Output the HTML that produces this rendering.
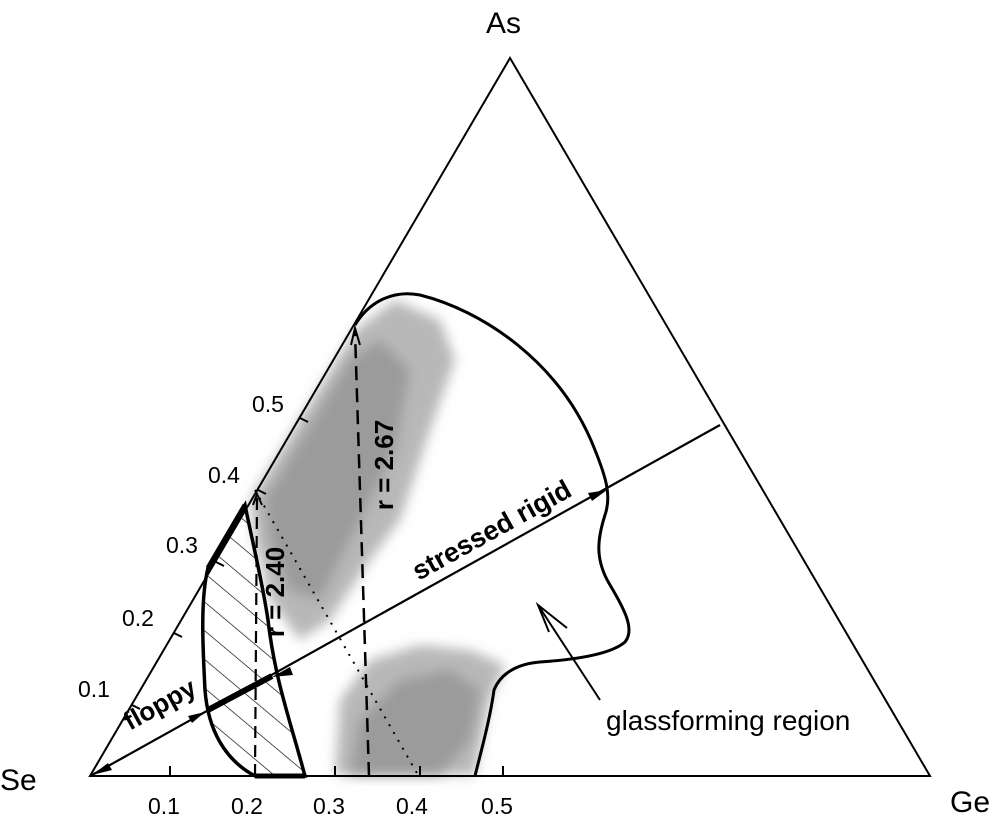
<!DOCTYPE html>
<html><head><meta charset="utf-8"><style>
html,body{margin:0;padding:0;background:#fff;}
svg{display:block;}
text{font-family:"Liberation Sans",sans-serif;fill:#000;}
</style></head><body>
<svg width="1000" height="816" viewBox="0 0 1000 816">
<defs>
<pattern id="hatch" patternUnits="userSpaceOnUse" width="22" height="22" patternTransform="rotate(-50)">
<line x1="0" y1="0" x2="0" y2="22" stroke="#000" stroke-width="1.3"/>
</pattern>
<filter id="blur"><feGaussianBlur stdDeviation="6"/></filter>
</defs>
<g filter="url(#blur)">
<path d="M250,500 L355,330 L395,300 L440,320 L455,360 L430,430 L400,520 L370,560 L330,620 L300,640 L270,600 L255,540 Z" fill="#b8b8b8"/>
<path d="M335,775 L340,700 L370,660 L420,645 L470,650 L505,665 L490,700 L475,775 Z" fill="#b8b8b8"/>
</g>
<path d="M265,500 L350,360 L380,340 L410,370 L395,450 L360,520 L320,600 L290,590 L270,540 Z" fill="#888" opacity="0.6" filter="url(#blur)"/>
<path d="M350,775 L360,720 L400,680 L450,670 L480,690 L470,740 L440,775 Z" fill="#888" opacity="0.6" filter="url(#blur)"/>
<polygon points="90,776 930,776 510,58" fill="none" stroke="#000" stroke-width="2"/>
<path d="M245,505 L208,568 C200,600 203,650 205,690 C208,730 225,760 255,776 L305,776 C290,720 275,680 268,620 C262,580 252,540 245,505 Z" fill="url(#hatch)" stroke="#000" stroke-width="3.5"/>
<line x1="245" y1="505" x2="208" y2="568" stroke="#000" stroke-width="5"/>
<line x1="255" y1="776" x2="305" y2="776" stroke="#000" stroke-width="5"/>
<path d="M355,325 C370,300 395,290 420,295 C480,310 560,360 595,450 C605,475 612,495 605,515 C597,540 595,560 610,585 C625,610 635,630 625,642 C610,655 570,660 540,662 C515,664 500,675 494,690 C490,720 480,755 475,776" fill="none" stroke="#000" stroke-width="3"/>
<g stroke="#000" stroke-width="2">
<line x1="132" y1="705" x2="140" y2="709"/>
<line x1="174" y1="633" x2="182" y2="637"/>
<line x1="216" y1="562" x2="224" y2="566"/>
<line x1="258" y1="490" x2="266" y2="494"/>
<line x1="300" y1="418" x2="308" y2="422"/>
<line x1="170" y1="776" x2="170" y2="766"/>
<line x1="255" y1="776" x2="255" y2="766"/>
<line x1="335" y1="776" x2="335" y2="766"/>
<line x1="420" y1="776" x2="420" y2="766"/>
<line x1="503" y1="776" x2="503" y2="766"/>
</g>
<line x1="720" y1="425" x2="92" y2="775" stroke="#000" stroke-width="2.2"/>
<line x1="208" y1="710" x2="272" y2="676" stroke="#000" stroke-width="6"/>
<polygon points="607,490 588,493 592,501" fill="#000"/>
<polygon points="272,677 290,667 293,675" fill="#000"/>
<polygon points="92,775 108,763 112,770" fill="#000"/>
<polygon points="205,712 188,716 192,723" fill="#000"/>
<line x1="255" y1="776" x2="257" y2="497" stroke="#000" stroke-width="2.2" stroke-dasharray="12,7"/>
<line x1="369" y1="776" x2="355" y2="332" stroke="#000" stroke-width="2.5" stroke-dasharray="14,8"/>
<path d="M351,345 L355,328 L360,345" fill="none" stroke="#000" stroke-width="2"/>
<path d="M253,505 L257,494 L262,505" fill="none" stroke="#000" stroke-width="2"/>
<line x1="255" y1="490" x2="418" y2="775" stroke="#000" stroke-width="2" stroke-dasharray="2,7"/>
<line x1="600" y1="700" x2="538" y2="605" stroke="#000" stroke-width="2"/>
<path d="M549,632 L538,605 L567,628" fill="none" stroke="#000" stroke-width="2"/>
<text x="486" y="33" font-size="30">As</text>
<text x="0" y="790" font-size="30">Se</text>
<text x="950" y="812" font-size="30">Ge</text>
<g font-size="23">
<text x="78" y="697">0.1</text>
<text x="122" y="626">0.2</text>
<text x="166" y="553">0.3</text>
<text x="208" y="483">0.4</text>
<text x="252" y="412">0.5</text>
<text x="148" y="814">0.1</text>
<text x="231" y="814">0.2</text>
<text x="313" y="814">0.3</text>
<text x="396" y="814">0.4</text>
<text x="481" y="814">0.5</text>
</g>
<text font-size="26" font-weight="bold" text-anchor="middle" transform="translate(284,592) rotate(-90)">r = 2.40</text>
<text font-size="26" font-weight="bold" text-anchor="middle" transform="translate(393,465) rotate(-90)">r = 2.67</text>
<text font-size="27" font-weight="bold" text-anchor="middle" transform="translate(496,538) rotate(-29)">stressed rigid</text>
<text font-size="26" font-weight="bold" text-anchor="middle" transform="translate(164,712) rotate(-29)">floppy</text>
<text x="606" y="730" font-size="28">glassforming region</text>
</svg>
</body></html>
